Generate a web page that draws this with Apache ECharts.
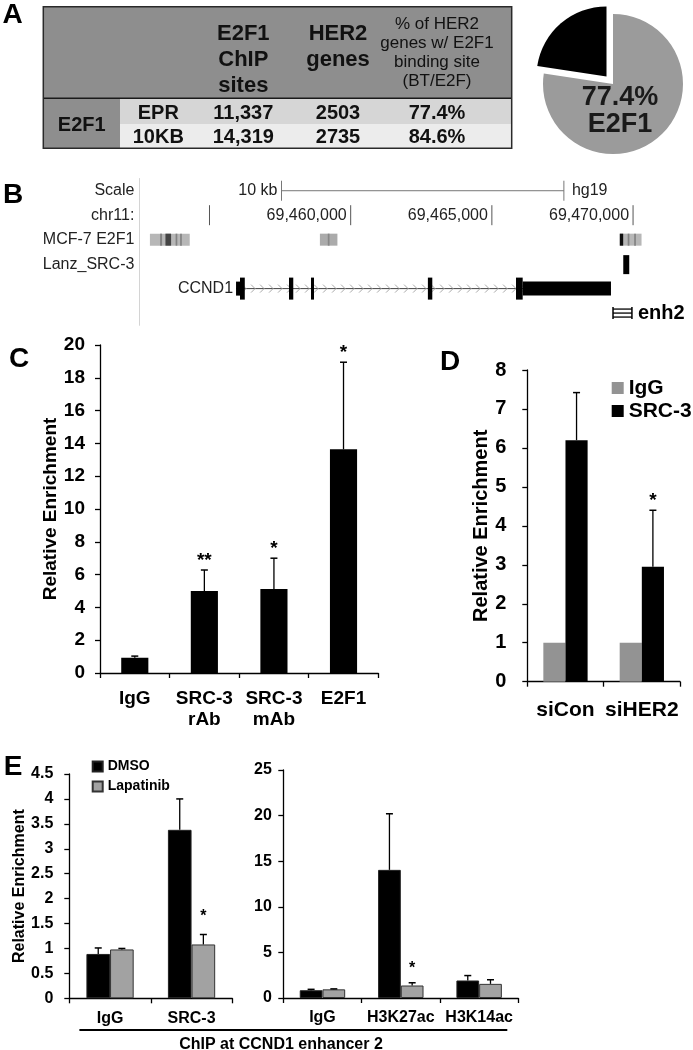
<!DOCTYPE html>
<html>
<head>
<meta charset="utf-8">
<script src="https://cdn.jsdelivr.net/npm/echarts@6/dist/echarts.min.js"></script>
<style>
  html, body { margin: 0; padding: 0; background: #fff; }
  #chart { width: 693px; height: 1050px; }
</style>
</head>
<body>
<div id="chart"></div>
<script>
// A: table + pie
const tableRows = ["EPR", "10KB"];
const chipSites = [11337, 14319];
const her2Genes = [2503, 2735];
const pctBound = [77.4, 84.6];

// B: hg19 chr11 browser view
const tracks = ["Scale", "chr11:", "MCF-7 E2F1", "Lanz_SRC-3", "CCND1", "enh2"];
const rulerTicks = [69455000, 69460000, 69465000, 69470000];
const rulerLabels = ["", "69,460,000", "69,465,000", "69,470,000"];
const scaleBar = [69457550, 69467550];
// [start, end, score]
const e2f1Peaks = [
  [69452890, 69454300, 300],
  [69453250, 69453320, 520],
  [69453440, 69453640, 780],
  [69453800, 69453860, 520],
  [69453960, 69454020, 520],
  [69458910, 69459530, 350],
  [69459190, 69459250, 500],
  [69469530, 69470300, 300],
  [69469530, 69469650, 1000],
  [69469810, 69469870, 520],
  [69470040, 69470100, 520],
];
const src3Peaks = [[69469653, 69469865]];
const geneName = "CCND1";
const ccnd1Tx = [69455940, 69469218];
const ccnd1Cds = [69456080, 69466091];
const ccnd1Exons = [
  [69455940, 69456250],
  [69457815, 69457967],
  [69458594, 69458700],
  [69462734, 69462890],
  [69465854, 69469218],
];
const enh2 = [69469290, 69469960];

// C
const cCats = ["IgG", "SRC-3\nrAb", "SRC-3\nmAb", "E2F1"];
const cMean = [0.93, 5.0, 5.12, 13.64];
const cErr = [0.1, 1.28, 1.88, 5.31];
const cSig = ["", "**", "*", "*"];

// D
const dCats = ["siCon", "siHER2"];
const dIgG = [1, 1];
const dSrc3 = [6.2, 2.95];
const dSrc3Err = [1.22, 1.45];
const dSig = ["", "*"];

// E
const eLeftCats = ["IgG", "SRC-3"];
const eLeftDmso = [0.89, 3.38];
const eLeftDmsoErr = [0.12, 0.62];
const eLeftLap = [0.98, 1.08];
const eLeftLapErr = [0.02, 0.2];
const eLeftSig = ["", "*"];
const eRightCats = ["IgG", "H3K27ac", "H3K14ac"];
const eRightDmso = [0.85, 14.05, 1.92];
const eRightDmsoErr = [0.1, 6.15, 0.54];
const eRightLap = [0.95, 1.37, 1.55];
const eRightLapErr = [0.05, 0.3, 0.45];
const eRightSig = ["", "*", ""];

const FONT = "'Liberation Sans', Arial, Helvetica, sans-serif";
const f = (size, bold) => (bold ? "bold " : "") + size + "px " + FONT;

function gray(score) {
  let v = Math.round(255 - score * 0.24);
  return "rgb(" + v + "," + v + "," + v + ")";
}

// error bar (upper half) + significance stars
function errSeries(idx, mean, err, sig, shift, starGap, starSize) {
  return {
    type: "custom",
    xAxisIndex: idx,
    yAxisIndex: idx,
    silent: true,
    z: 5,
    data: mean.map((m, i) => [i, m, m + err[i]]),
    renderItem: function (params, api) {
      let i = api.value(0);
      let lo = api.coord([i, api.value(1)]);
      let hi = api.coord([i, api.value(2)]);
      let band = api.size([1, 0])[0];
      let x = lo[0] + shift * band;
      let kids = [
        { type: "line", shape: { x1: x, y1: lo[1], x2: x, y2: hi[1] }, style: { stroke: "#000", lineWidth: 1.3 } },
        { type: "line", shape: { x1: x - 3.5, y1: hi[1], x2: x + 3.5, y2: hi[1] }, style: { stroke: "#000", lineWidth: 1.5 } },
      ];
      let s = sig[params.dataIndex];
      if (s) {
        kids.push({
          type: "text", x: x, y: hi[1] - starGap,
          style: { text: s, align: "center", verticalAlign: "middle", font: f(starSize, true), fill: "#000" },
        });
      }
      return { type: "group", children: kids };
    },
  };
}

function barAxisX(idx, cats, size, margin) {
  return {
    gridIndex: idx, type: "category", data: cats,
    axisLine: { lineStyle: { color: "#000", width: 1.3 } },
    axisTick: { show: true, length: 5, lineStyle: { color: "#000", width: 1.3 } },
    axisLabel: { interval: 0, margin: margin, color: "#000", fontFamily: FONT, fontWeight: "bold", fontSize: size, lineHeight: size + 2 },
    splitLine: { show: false },
  };
}

function barAxisY(idx, max, interval, size, margin, name, nameSize, nameGap) {
  return {
    gridIndex: idx, type: "value", min: 0, max: max, interval: interval,
    name: name, nameLocation: "middle", nameRotate: 90, nameGap: nameGap,
    nameTextStyle: { color: "#000", fontFamily: FONT, fontWeight: "bold", fontSize: nameSize },
    axisLine: { show: true, lineStyle: { color: "#000", width: 1.3 } },
    axisTick: { show: true, length: 5, lineStyle: { color: "#000", width: 1.3 } },
    axisLabel: { margin: margin, color: "#000", fontFamily: FONT, fontWeight: "bold", fontSize: size, showMinLabel: true, showMaxLabel: true },
    splitLine: { show: false },
  };
}

// table for panel A
function tableGraphic() {
  let L = 43.3, T = 6.7, R = 511.7, HB = 98.3, RS = 124, B = 148.3, FC = 120;
  let colX = [81.7, 158.3, 243.3, 338, 437];
  let rowY = [113.3, 137.3];
  let kids = [
    { type: "rect", shape: { x: L, y: T, width: R - L, height: HB - T }, style: { fill: "#8e8e8e" } },
    { type: "rect", shape: { x: FC, y: HB, width: R - FC, height: RS - HB }, style: { fill: "#d6d6d6" } },
    { type: "rect", shape: { x: FC, y: RS, width: R - FC, height: B - RS }, style: { fill: "#ececec" } },
    { type: "rect", shape: { x: L, y: HB, width: FC - L, height: B - HB }, style: { fill: "#8e8e8e" } },
    { type: "line", shape: { x1: L, y1: HB, x2: R, y2: HB }, style: { stroke: "#1a1a1a", lineWidth: 1.5 } },
    { type: "rect", shape: { x: L, y: T, width: R - L, height: B - T }, style: { fill: null, stroke: "#2a2a2a", lineWidth: 1.5 } },
    { type: "text", x: colX[2], y: 59.5, style: { text: "E2F1\nChIP\nsites", align: "center", verticalAlign: "middle", font: f(22, true), lineHeight: 26, fill: "#111" } },
    { type: "text", x: colX[3], y: 47, style: { text: "HER2\ngenes", align: "center", verticalAlign: "middle", font: f(22, true), lineHeight: 26, fill: "#111" } },
    { type: "text", x: colX[4], y: 53.3, style: { text: "% of HER2\ngenes w/ E2F1\nbinding site\n(BT/E2F)", align: "center", verticalAlign: "middle", font: f(17, false), lineHeight: 19, fill: "#111" } },
    { type: "text", x: colX[0], y: (rowY[0] + rowY[1]) / 2, style: { text: "E2F1", align: "center", verticalAlign: "middle", font: f(20, true), fill: "#111" } },
  ];
  tableRows.forEach(function (r, i) {
    let cells = [r, chipSites[i].toLocaleString("en-US"), String(her2Genes[i]), pctBound[i] + "%"];
    cells.forEach(function (c, j) {
      kids.push({ type: "text", x: colX[j + 1], y: rowY[i], style: { text: c, align: "center", verticalAlign: "middle", font: f(20, true), fill: "#111" } });
    });
  });
  return { type: "group", children: kids };
}

function letter(t, x, y) {
  return { type: "text", x: x, y: y, style: { text: t, align: "center", verticalAlign: "middle", font: f(28, true), fill: "#000" } };
}

let option = {
  animation: false,
  backgroundColor: "#fff",
  textStyle: { fontFamily: FONT },
  grid: [
    { left: 138.9, top: 178.5, width: 522.4, height: 146.8, outerBoundsMode: "none" },
    { left: 100, top: 345, width: 278.3, height: 328, outerBoundsMode: "none" },
    { left: 527.3, top: 370, width: 152.7, height: 311.7, outerBoundsMode: "none" },
    { left: 69.3, top: 774, width: 163, height: 224.3, outerBoundsMode: "none" },
    { left: 283.3, top: 770, width: 235, height: 228, outerBoundsMode: "none" },
  ],
  xAxis: [
    { gridIndex: 0, type: "value", min: 69452500, max: 69471000, show: false },
    barAxisX(1, cCats, 19, 15),
    barAxisX(2, dCats, 21, 17),
    barAxisX(3, eLeftCats, 16, 11.5),
    barAxisX(4, eRightCats, 16, 11),
  ],
  yAxis: [
    {
      gridIndex: 0, type: "category", data: tracks, inverse: true,
      axisLine: { show: true, lineStyle: { color: "#d4d4d4", width: 1 } },
      axisTick: { show: false },
      axisLabel: {
        interval: 0, margin: 4.5, color: "#222", fontFamily: FONT, fontSize: 16,
        formatter: (v, i) => (i < 4 ? v : ""),
      },
    },
    barAxisY(1, 20, 2, 19, 15, "Relative Enrichment", 19, 36),
    barAxisY(2, 8, 1, 20, 21, "Relative Enrichment", 20, 35),
    barAxisY(3, 4.5, 0.5, 16, 16, "Relative Enrichment", 16, 38),
    barAxisY(4, 25, 5, 16, 11.5, "", 16, 30),
  ],
  legend: [
    {
      data: ["IgG", "SRC-3"], orient: "vertical", left: 606.7, top: 372,
      itemWidth: 12, itemHeight: 12, itemGap: 1, selectedMode: false, icon: "rect",
      textStyle: { color: "#000", fontFamily: FONT, fontWeight: "bold", fontSize: 21, lineHeight: 22 },
    },
    {
      data: ["DMSO", "Lapatinib"], orient: "vertical", left: 86.7, top: 754,
      itemWidth: 10, itemHeight: 10, itemGap: 5, selectedMode: false, icon: "rect",
      textStyle: { color: "#000", fontFamily: FONT, fontWeight: "bold", fontSize: 14, lineHeight: 15 },
    },
  ],
  graphic: [
    tableGraphic(),
    { type: "text", x: 620, y: 111, z: 10, style: { text: pctBound[0] + "%\nE2F1", align: "center", verticalAlign: "middle", font: f(27, true), lineHeight: 27, fill: "#1a1a1a" } },
    letter("A", 12.5, 15),
    letter("B", 13, 195),
    letter("C", 19, 359),
    letter("D", 450, 362),
    letter("E", 13, 767),
    { type: "line", shape: { x1: 79.4, y1: 1030, x2: 507.3, y2: 1030 }, style: { stroke: "#000", lineWidth: 2 } },
    { type: "text", x: 281, y: 1045, style: { text: "ChIP at CCND1 enhancer 2", align: "center", verticalAlign: "middle", font: f(16, true), fill: "#000" } },
  ],
  series: [
    {
      type: "pie", center: [613, 84], radius: 70, startAngle: 90, clockwise: true,
      selectedMode: "single", selectedOffset: 10, silent: true,
      label: { show: false }, labelLine: { show: false },
      emphasis: { disabled: true },
      data: [
        { name: "E2F1", value: pctBound[0], itemStyle: { color: "#9b9b9b" } },
        { name: "other", value: 100 - pctBound[0], selected: true, itemStyle: { color: "#000" } },
      ],
    },
    // ruler
    {
      type: "custom", xAxisIndex: 0, yAxisIndex: 0, silent: true,
      data: rulerTicks.map((p) => [p, 1]),
      renderItem: function (params, api) {
        let pt = api.coord([api.value(0), api.value(1)]);
        return {
          type: "group",
          children: [
            { type: "line", shape: { x1: pt[0], y1: pt[1] - 10, x2: pt[0], y2: pt[1] + 10 }, style: { stroke: "#555", lineWidth: 1 } },
            { type: "text", x: pt[0] - 4, y: pt[1], style: { text: rulerLabels[params.dataIndex], align: "right", verticalAlign: "middle", font: f(16, false), fill: "#222" } },
          ],
        };
      },
    },
    // scale bar
    {
      type: "custom", xAxisIndex: 0, yAxisIndex: 0, silent: true,
      data: [[scaleBar[0], scaleBar[1], 0]],
      renderItem: function (params, api) {
        let a = api.coord([api.value(0), api.value(2)]);
        let b = api.coord([api.value(1), api.value(2)]);
        return {
          type: "group",
          children: [
            { type: "line", shape: { x1: a[0], y1: a[1], x2: b[0], y2: b[1] }, style: { stroke: "#777", lineWidth: 1 } },
            { type: "line", shape: { x1: a[0], y1: a[1] - 10, x2: a[0], y2: a[1] + 10 }, style: { stroke: "#777", lineWidth: 1 } },
            { type: "line", shape: { x1: b[0], y1: b[1] - 10, x2: b[0], y2: b[1] + 10 }, style: { stroke: "#777", lineWidth: 1 } },
            { type: "text", x: a[0] - 4, y: a[1], style: { text: "10 kb", align: "right", verticalAlign: "middle", font: f(16, false), fill: "#222" } },
            { type: "text", x: b[0] + 8, y: b[1], style: { text: "hg19", align: "left", verticalAlign: "middle", font: f(16, false), fill: "#222" } },
          ],
        };
      },
    },
    // MCF-7 E2F1 peaks
    {
      type: "custom", xAxisIndex: 0, yAxisIndex: 0, silent: true,
      data: e2f1Peaks.map((p) => [p[0], p[1], 2, p[2]]),
      renderItem: function (params, api) {
        let a = api.coord([api.value(0), api.value(2)]);
        let b = api.coord([api.value(1), api.value(2)]);
        return { type: "rect", shape: { x: a[0], y: a[1] - 6, width: Math.max(b[0] - a[0], 1), height: 12 }, style: { fill: gray(api.value(3)) } };
      },
    },
    // Lanz SRC-3 peaks
    {
      type: "custom", xAxisIndex: 0, yAxisIndex: 0, silent: true,
      data: src3Peaks.map((p) => [p[0], p[1], 3]),
      renderItem: function (params, api) {
        let a = api.coord([api.value(0), api.value(2)]);
        let b = api.coord([api.value(1), api.value(2)]);
        return { type: "rect", shape: { x: a[0], y: a[1] - 9, width: Math.max(b[0] - a[0], 2), height: 19 }, style: { fill: "#000" } };
      },
    },
    // CCND1 intron line + chevrons
    {
      type: "custom", xAxisIndex: 0, yAxisIndex: 0, silent: true,
      data: [[ccnd1Tx[0], ccnd1Tx[1], 4]],
      renderItem: function (params, api) {
        let a = api.coord([api.value(0), api.value(2)]);
        let b = api.coord([api.value(1), api.value(2)]);
        let kids = [{ type: "line", shape: { x1: a[0], y1: a[1], x2: b[0], y2: b[1] }, style: { stroke: "#444", lineWidth: 1 } }];
        for (let x = a[0] + 8; x < b[0] - 4; x += 9) {
          kids.push({ type: "polyline", shape: { points: [[x - 2, a[1] - 4], [x + 2, a[1]], [x - 2, a[1] + 4]] }, style: { stroke: "#aaa", lineWidth: 1, fill: null } });
        }
        kids.push({ type: "text", x: a[0] - 3, y: a[1], style: { text: geneName, align: "right", verticalAlign: "middle", font: f(16, false), fill: "#222" } });
        return { type: "group", children: kids };
      },
    },
    // CCND1 exons
    {
      type: "custom", xAxisIndex: 0, yAxisIndex: 0, silent: true, z: 3,
      data: ccnd1Exons.map((e) => [e[0], e[1], 4]),
      renderItem: function (params, api) {
        let s = api.value(0), e = api.value(1), row = api.value(2);
        let parts = [];
        if (s < ccnd1Cds[0]) parts.push([s, Math.min(e, ccnd1Cds[0]), 14]);
        let ts = Math.max(s, ccnd1Cds[0]), te = Math.min(e, ccnd1Cds[1]);
        if (te > ts) parts.push([ts, te, 22]);
        if (e > ccnd1Cds[1]) parts.push([Math.max(s, ccnd1Cds[1]), e, 14]);
        return {
          type: "group",
          children: parts.map(function (p) {
            let a = api.coord([p[0], row]);
            let b = api.coord([p[1], row]);
            return { type: "rect", shape: { x: a[0], y: a[1] - p[2] / 2, width: Math.max(b[0] - a[0], 2.5), height: p[2] }, style: { fill: "#000" } };
          }),
        };
      },
    },
    // enh2 amplicon
    {
      type: "custom", xAxisIndex: 0, yAxisIndex: 0, silent: true,
      data: [[enh2[0], enh2[1], 5]],
      renderItem: function (params, api) {
        let a = api.coord([api.value(0), api.value(2)]);
        let b = api.coord([api.value(1), api.value(2)]);
        let kids = [];
        [-4, 0, 4].forEach(function (d) {
          kids.push({ type: "line", shape: { x1: a[0], y1: a[1] + d, x2: b[0], y2: b[1] + d }, style: { stroke: "#000", lineWidth: 1.3 } });
        });
        kids.push({ type: "line", shape: { x1: a[0], y1: a[1] - 6, x2: a[0], y2: a[1] + 6 }, style: { stroke: "#000", lineWidth: 1.5 } });
        kids.push({ type: "line", shape: { x1: b[0], y1: b[1] - 6, x2: b[0], y2: b[1] + 6 }, style: { stroke: "#000", lineWidth: 1.5 } });
        kids.push({ type: "text", x: b[0] + 6, y: b[1], style: { text: "enh2", align: "left", verticalAlign: "middle", font: f(20, true), fill: "#000" } });
        return { type: "group", children: kids };
      },
    },

    // C
    {
      type: "bar", xAxisIndex: 1, yAxisIndex: 1, barWidth: "39%", silent: true,
      itemStyle: { color: "#000" }, data: cMean,
    },
    errSeries(1, cMean, cErr, cSig, 0, 9, 19),

    // D
    {
      name: "IgG", type: "bar", xAxisIndex: 2, yAxisIndex: 2, barWidth: "29%", barGap: "0%", silent: true,
      itemStyle: { color: "#939393" }, data: dIgG,
    },
    {
      name: "SRC-3", type: "bar", xAxisIndex: 2, yAxisIndex: 2, barWidth: "29%", barGap: "0%", silent: true,
      itemStyle: { color: "#000" }, data: dSrc3,
    },
    errSeries(2, dSrc3, dSrc3Err, dSig, 0.145, 9, 19),

    // E left
    {
      name: "DMSO", type: "bar", xAxisIndex: 3, yAxisIndex: 3, barWidth: "29%", barGap: "0%", silent: true,
      itemStyle: { color: "#000", borderColor: "#222", borderWidth: 1 }, data: eLeftDmso,
    },
    {
      name: "Lapatinib", type: "bar", xAxisIndex: 3, yAxisIndex: 3, barWidth: "29%", barGap: "0%", silent: true,
      itemStyle: { color: "#a2a2a2", borderColor: "#333", borderWidth: 1 }, data: eLeftLap,
    },
    errSeries(3, eLeftDmso, eLeftDmsoErr, ["", ""], -0.145, 10, 16),
    errSeries(3, eLeftLap, eLeftLapErr, eLeftSig, 0.145, 18, 16),

    // E right
    {
      name: "DMSO", type: "bar", xAxisIndex: 4, yAxisIndex: 4, barWidth: "29%", barGap: "0%", silent: true,
      itemStyle: { color: "#000", borderColor: "#222", borderWidth: 1 }, data: eRightDmso,
    },
    {
      name: "Lapatinib", type: "bar", xAxisIndex: 4, yAxisIndex: 4, barWidth: "29%", barGap: "0%", silent: true,
      itemStyle: { color: "#a2a2a2", borderColor: "#333", borderWidth: 1 }, data: eRightLap,
    },
    errSeries(4, eRightDmso, eRightDmsoErr, ["", "", ""], -0.145, 10, 16),
    errSeries(4, eRightLap, eRightLapErr, eRightSig, 0.145, 14, 16),
  ],
};

let chart = echarts.init(document.getElementById("chart"));
chart.setOption(option);
</script>
</body>
</html>
